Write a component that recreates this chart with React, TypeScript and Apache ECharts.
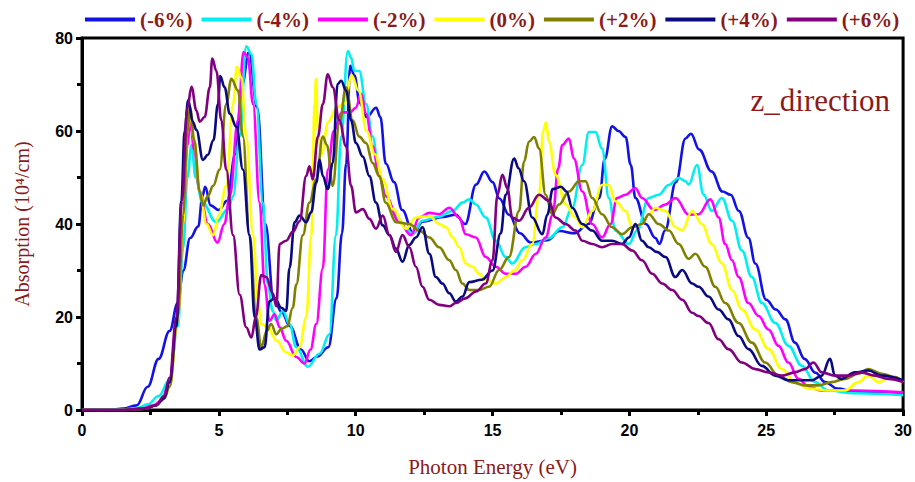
import React, { useEffect, useRef } from "react";
import * as echarts from "echarts";

// Photon energy (eV) / absorption (10^4/cm) pairs
const seriesNames = ["(-6%)", "(-4%)", "(-2%)", "(0%)", "(+2%)", "(+4%)", "(+6%)"];
const seriesColors = ["#1212e6", "#00f0f0", "#ff00ff", "#ffff00", "#808000", "#0a0a80", "#800080"];

const strainM6: number[][] = [
  [0,0],[1.0,0],[1.5,0.3],[2.0,1],[2.4,5],[2.8,11],[3.2,17],[3.5,23],[3.7,30],[3.95,37],[4.25,39.5],[4.4,46],[4.5,48],[4.7,44],[5.0,43],[5.3,45],[5.6,55],[5.85,70],[6.1,77],[6.4,65],[6.7,40],[7.0,24],[7.3,21],[7.6,18],[8.0,13],[8.3,10.5],[8.6,11.5],[9.0,13.5],[9.3,24],[9.5,38],[9.65,53],[9.8,74],[9.95,72],[10.15,66],[10.4,63],[10.75,65],[10.9,63],[11.1,53],[11.4,49],[11.7,43],[12.1,38],[12.45,40.5],[13.2,41.5],[13.65,42],[14.0,40],[14.4,48.5],[14.7,51.3],[15.0,49],[15.25,45.5],[15.6,42],[16.0,38],[16.4,36],[17.0,36.5],[17.45,38.5],[18.0,38],[18.5,40],[18.9,45.6],[19.1,54],[19.37,61],[19.6,60],[19.86,58.7],[20.05,52.7],[20.22,45.6],[20.6,40],[20.95,37],[21.1,35.7],[21.3,38.6],[21.7,49],[22.05,58.4],[22.25,59.4],[22.55,56],[23.0,51.3],[23.4,47],[23.7,46.3],[24.0,42.8],[24.35,37],[24.6,31.5],[25.0,23.7],[25.35,21.6],[25.7,19.5],[26.05,14.5],[26.4,11],[26.8,8],[27.15,6],[27.6,4.6],[28.2,4],[29,3.6],[30,3.3]
];
const strainM4: number[][] = [
  [0,0],[1.5,0.1],[2.0,0.4],[2.4,1.2],[2.8,3],[3.2,6.5],[3.5,18],[3.7,35],[3.85,50],[4.0,57],[4.15,50],[4.4,44.6],[4.9,40.4],[5.34,43.2],[5.52,46],[5.76,58.8],[6.0,78.2],[6.19,76.5],[6.37,65.8],[6.61,44.6],[6.79,27],[6.97,21.3],[7.1,19.2],[7.34,21.3],[7.58,18.5],[7.83,13.5],[8.25,9.3],[8.68,12.1],[9.04,16.3],[9.28,37.6],[9.47,58.8],[9.71,77.2],[9.83,75.8],[9.95,72.9],[10.13,72.9],[10.38,65.8],[10.62,58.8],[10.86,50.3],[11.1,46],[11.47,41.8],[11.84,39],[12.08,37.9],[12.44,40.7],[13.0,41.5],[13.54,42.8],[13.9,44.6],[14.15,45.3],[14.39,44.2],[14.75,41.4],[15.12,36.4],[15.48,32.9],[15.72,31.5],[16.2,35],[16.58,35.7],[17.06,37],[17.55,39.3],[17.91,43.5],[18.28,52.7],[18.52,59.8],[18.76,59.8],[19.0,56.2],[19.25,45.6],[19.49,38.6],[19.98,35.7],[20.28,38.6],[20.71,45.6],[21.07,46.3],[21.44,48.4],[21.8,49.9],[22.05,49.2],[22.17,48.5],[22.47,52.7],[22.71,46.3],[23.01,42.8],[23.38,45.6],[23.75,40.7],[24.11,34.3],[24.47,28.6],[24.84,23],[25.33,18.7],[25.81,13.8],[26.3,9.5],[26.78,6],[27.27,4.2],[28.24,3.6],[30,3.2]
];
const strainM2: number[][] = [
  [0,0],[1.5,0],[2.2,0.3],[2.6,1],[2.9,2],[3.2,6],[3.5,20],[3.7,40],[3.85,57],[3.95,62],[4.1,56],[4.3,47],[4.6,40],[4.95,36],[5.2,40],[5.4,46],[5.7,62.3],[5.9,77],[6.06,75.8],[6.25,65.8],[6.49,44.6],[6.67,27],[6.85,19.2],[7.04,20.6],[7.22,17.8],[7.46,14.9],[7.83,11.4],[8.13,10],[8.35,13],[8.56,18.5],[8.8,30.5],[8.98,51.7],[9.2,60],[9.5,64],[9.8,64],[10.0,65],[10.2,68],[10.38,63.7],[10.62,56.7],[10.86,50.3],[11.1,46],[11.59,40.4],[12.02,37.6],[12.32,41.4],[12.69,42.4],[13.05,42.1],[13.42,43.5],[13.78,41.4],[14.02,37.8],[14.39,37.1],[14.75,32.9],[15.12,30.8],[15.48,29.3],[15.85,29.3],[16.21,30.8],[16.58,33.6],[16.94,37.1],[17.2,42],[17.4,52],[17.55,57],[17.79,58.4],[17.97,54.1],[18.28,47],[18.64,40],[19.0,37.1],[19.31,40],[19.55,45.6],[19.86,46.3],[20.22,47.7],[20.46,45.6],[20.9,43],[21.32,44.2],[21.68,45.6],[22.17,42],[22.53,42.1],[22.96,45.3],[23.26,41.4],[23.5,35.7],[23.75,32.2],[23.99,28.6],[24.35,23],[24.72,20.2],[25.08,17.3],[25.45,13.8],[25.81,10.2],[26.18,6.7],[26.54,5],[27.0,4.2],[28.2,4.2],[30,3.8]
];
const strain0: number[][] = [
  [0,0],[1.5,0],[2.3,0.3],[2.7,1],[3.0,2.5],[3.2,5],[3.5,19],[3.7,40],[3.85,60],[3.95,64],[4.1,58],[4.3,47],[4.55,40],[4.79,37.6],[5.0,42],[5.27,48.2],[5.52,65.8],[5.66,73.8],[5.82,71.5],[6.0,58.8],[6.25,37.6],[6.43,23.4],[6.55,18.5],[6.79,17.8],[7.1,15],[7.46,12.4],[7.7,11.7],[7.95,13.5],[8.19,19.9],[8.38,37.6],[8.5,65.8],[8.55,71.2],[8.62,60],[8.75,55],[9.0,62],[9.3,65],[9.6,66],[9.85,72],[10.1,68.7],[10.4,60],[10.7,55],[10.99,49.6],[11.35,43.2],[11.84,39],[12.2,41.4],[12.69,41.7],[13.05,40],[13.3,39.3],[13.54,37.1],[13.78,35],[14.02,31.5],[14.27,30.8],[14.51,29.3],[14.75,28],[15.12,27.2],[15.48,28.6],[15.8,30],[16.09,32.2],[16.45,35.7],[16.7,46.3],[16.85,60],[16.95,61.8],[17.06,57.7],[17.3,50.6],[17.67,44.2],[18.03,41.4],[18.28,39.3],[18.64,42.8],[19.0,48.4],[19.25,48.4],[19.49,44.9],[19.86,42.8],[20.1,39.3],[20.46,40],[20.71,42.1],[20.95,43.5],[21.32,42.8],[21.68,39.3],[21.93,38.6],[22.29,42.8],[22.65,40],[23.01,35.7],[23.38,31.5],[23.75,25.8],[24.11,21.6],[24.6,17.3],[25.08,13.1],[25.57,8.8],[26.05,6],[26.54,4.6],[27.27,4.2],[27.87,4.2],[28.36,6],[28.73,7.4],[29.1,6],[29.5,7],[30,6]
];
const strainP2: number[][] = [
  [0,0],[1.5,0],[2.3,0.3],[2.7,1],[3.0,2.5],[3.2,5],[3.5,20],[3.7,42],[3.85,60],[3.95,65],[4.1,58],[4.3,47],[4.42,44],[4.6,46],[4.79,48.2],[5.03,51.7],[5.27,65.8],[5.46,71.2],[5.7,68.7],[5.88,58.8],[6.12,37.6],[6.37,19.9],[6.55,13.5],[6.75,17],[6.91,18.5],[7.1,16.3],[7.3,17.5],[7.5,18],[7.7,22],[7.83,27],[8.07,37.6],[8.31,44.6],[8.56,49.6],[8.8,58.8],[8.95,57],[9.16,48.2],[9.4,61.6],[9.65,69.4],[9.89,62.3],[10.13,58.8],[10.38,57.4],[10.62,53.1],[10.86,50.3],[11.1,44.6],[11.47,40.4],[11.96,40],[12.32,38.6],[12.69,37.1],[13.05,35],[13.42,32.2],[13.66,30.1],[13.9,27.2],[14.15,25.8],[14.51,25.8],[14.87,26.5],[15.24,30.1],[15.6,32.9],[15.97,42.8],[16.15,53.4],[16.33,57.7],[16.52,58.7],[16.7,56.2],[16.94,46.3],[17.18,42.1],[17.43,44.2],[17.79,47],[18.16,49.2],[18.4,49.2],[18.64,45.6],[19.0,42.1],[19.37,39.3],[19.73,37.8],[20.1,39.3],[20.46,40],[20.71,42.1],[21.07,40],[21.44,38.6],[21.8,35.7],[22.17,32.5],[22.41,33.6],[22.77,30.8],[23.14,26.5],[23.5,23],[23.99,18.7],[24.47,14.5],[24.96,10.2],[25.45,7.4],[25.93,6],[26.42,5.3],[26.9,5.3],[27.39,6],[27.87,6.7],[28.36,7.8],[28.73,8.8],[29.22,7.8],[29.7,7.1],[30,6]
];
const strainP4: number[][] = [
  [0,0],[1.5,0],[2.3,0.3],[2.7,1],[3.0,2.5],[3.2,6],[3.45,18],[3.63,45],[3.75,60],[3.88,66.6],[4.05,62],[4.18,60.2],[4.42,53.8],[4.6,54.9],[4.8,58],[4.97,65.8],[5.05,71.8],[5.21,69.4],[5.4,63.7],[5.64,60.9],[5.88,51.7],[6.12,37.6],[6.31,19.9],[6.49,13],[6.67,13.5],[6.85,23.4],[7.04,24.1],[7.28,22],[7.46,21.3],[7.58,30.5],[7.77,40.4],[7.95,41.8],[8.19,40.4],[8.37,42.5],[8.56,48.9],[8.68,53.8],[8.8,50.3],[8.98,47.5],[9.16,53.1],[9.34,70.1],[9.47,70.8],[9.65,68.7],[9.83,62.3],[10.01,57.4],[10.26,54.5],[10.5,50.3],[10.74,44.6],[10.99,39.7],[11.23,37.6],[11.47,34.7],[11.71,31.9],[11.96,35.5],[12.2,37.1],[12.44,39.3],[12.69,33.6],[12.93,28.6],[13.17,27.2],[13.42,25.1],[13.66,23.3],[13.9,24.4],[14.15,27.5],[14.6,28],[15.0,30],[15.3,38],[15.48,46.3],[15.79,54.1],[15.95,52],[16.15,49.2],[16.45,41.4],[16.82,37.8],[17.0,42],[17.2,47.5],[17.5,48],[17.7,47],[17.91,43.5],[18.28,40],[18.64,38.6],[19.0,36.4],[19.37,36.4],[19.73,35.7],[19.98,37.1],[20.22,40],[20.46,36.4],[20.71,35],[21.0,34],[21.32,32.9],[21.68,28.6],[21.93,30.1],[22.29,27.2],[22.53,26.5],[22.89,24.4],[23.26,21.6],[23.62,19.5],[23.99,15.9],[24.35,13.1],[24.84,9.5],[25.33,7.4],[25.81,6.4],[26.66,6.4],[27.03,7.4],[27.33,11],[27.51,7.4],[27.75,6.7],[28.24,8.1],[28.73,8.5],[29.22,7.4],[30,6.4]
];
const strainP6: number[][] = [
  [0,0],[1.5,0],[2.3,0.3],[2.7,1],[3.0,3],[3.2,7],[3.45,20],[3.65,45],[3.85,65],[4.0,69.5],[4.18,64.4],[4.3,62],[4.48,63],[4.67,69.4],[4.76,75.6],[4.91,72.9],[5.09,62.3],[5.27,51.7],[5.52,37.6],[5.76,24.8],[6.0,17.8],[6.19,15.6],[6.35,20],[6.55,29],[6.73,28.6],[6.97,25.1],[7.1,22.3],[7.22,35.7],[7.46,36.4],[7.7,38.3],[7.95,40.6],[8.19,50.3],[8.31,52.4],[8.43,49.6],[8.62,58.8],[8.8,65.8],[8.98,72.2],[9.16,69.4],[9.4,62.3],[9.65,56.7],[9.83,48.2],[10.01,42.5],[10.26,43.2],[10.5,41.1],[10.74,39],[10.99,41.8],[11.23,37.6],[11.47,34],[11.71,37.6],[11.96,35],[12.2,30.8],[12.44,26.5],[12.69,23.7],[13.05,22.6],[13.42,22.3],[13.66,23],[14.0,24],[14.4,25.5],[14.75,27.2],[15.0,32.2],[15.18,46.3],[15.36,50.6],[15.54,47.7],[15.72,41.4],[15.97,40.7],[16.33,43.5],[16.7,46.3],[17.06,45],[17.3,41.4],[17.67,40],[18.03,38.6],[18.28,36.4],[18.64,35.7],[19.0,35],[19.37,35.7],[19.73,35.7],[20.1,34.3],[20.46,32.2],[20.83,29.3],[21.2,27.2],[21.56,25.8],[21.93,23.7],[22.29,20.9],[22.53,20.2],[22.89,18.7],[23.26,15.2],[23.62,13.1],[24.11,10.2],[24.6,8.8],[25.08,8.1],[25.57,7.4],[26.05,8.1],[26.42,8.8],[26.72,10.2],[27.03,8.1],[27.51,7.4],[28.0,7.4],[28.48,8.1],[28.97,7.4],[29.46,6.7],[30,6]
];

const allData = [strainM6, strainM4, strainM2, strain0, strainP2, strainP4, strainP6];
const darkRed = "#8b1a1a";

export default function App() {
  const ref = useRef<HTMLDivElement>(null);
  useEffect(() => {
    if (!ref.current) return;
    const chart = echarts.init(ref.current, null, { renderer: "svg" });
    chart.setOption({
      animation: false,
      backgroundColor: "#ffffff",
      title: {
        text: "z_direction",
        right: 20,
        top: 80,
        textStyle: { fontFamily: "Liberation Serif", fontSize: 31, fontWeight: "normal", color: darkRed },
      },
      legend: {
        left: 85,
        top: 9,
        right: 0,
        padding: 0,
        icon: "rect",
        itemWidth: 50,
        itemHeight: 4,
        itemGap: 9,
        data: seriesNames,
        textStyle: { fontFamily: "Liberation Serif", fontSize: 21, fontWeight: "bold", color: darkRed },
      },
      grid: { left: 82, right: 10, top: 38, bottom: 67, show: true, borderColor: "#000", borderWidth: 3 },
      xAxis: {
        type: "value",
        min: 0,
        max: 30,
        interval: 5,
        name: "Photon Energy (eV)",
        nameLocation: "middle",
        nameGap: 46,
        nameTextStyle: { fontFamily: "Liberation Serif", fontSize: 21, color: darkRed },
        axisLine: { show: true, lineStyle: { color: "#000", width: 3 } },
        axisTick: { show: true, inside: false, length: 6, lineStyle: { color: "#000", width: 3 } },
        minorTick: { show: true, splitNumber: 2, length: 5, lineStyle: { color: "#000", width: 3 } },
        splitLine: { show: false },
        axisLabel: { fontFamily: "Liberation Sans", fontWeight: "bold", fontSize: 16, color: "#000", margin: 12 },
      },
      yAxis: {
        type: "value",
        min: 0,
        max: 80,
        interval: 20,
        name: "Absorption (10⁴/cm)",
        nameLocation: "middle",
        nameGap: 50,
        nameTextStyle: { fontFamily: "Liberation Serif", fontSize: 20, color: darkRed },
        axisLine: { show: true, lineStyle: { color: "#000", width: 3 } },
        axisTick: { show: true, inside: false, length: 6, lineStyle: { color: "#000", width: 3 } },
        minorTick: { show: true, splitNumber: 2, length: 5, lineStyle: { color: "#000", width: 3 } },
        splitLine: { show: false },
        axisLabel: { fontFamily: "Liberation Sans", fontWeight: "bold", fontSize: 16, color: "#000", margin: 9 },
      },
      series: allData.map((d, i) => ({
        name: seriesNames[i],
        type: "line",
        data: d,
        showSymbol: false,
        symbol: "none",
        smooth: 0.4,
        smoothMonotone: "x",
        color: seriesColors[i],
        lineStyle: { width: 2.6, color: seriesColors[i] },
        z: 2 + i,
      })),
    });
    return () => chart.dispose();
  }, []);
  return <div ref={ref} style={{ position: "fixed", left: 0, top: 0, width: 915, height: 482 }} />;
}
